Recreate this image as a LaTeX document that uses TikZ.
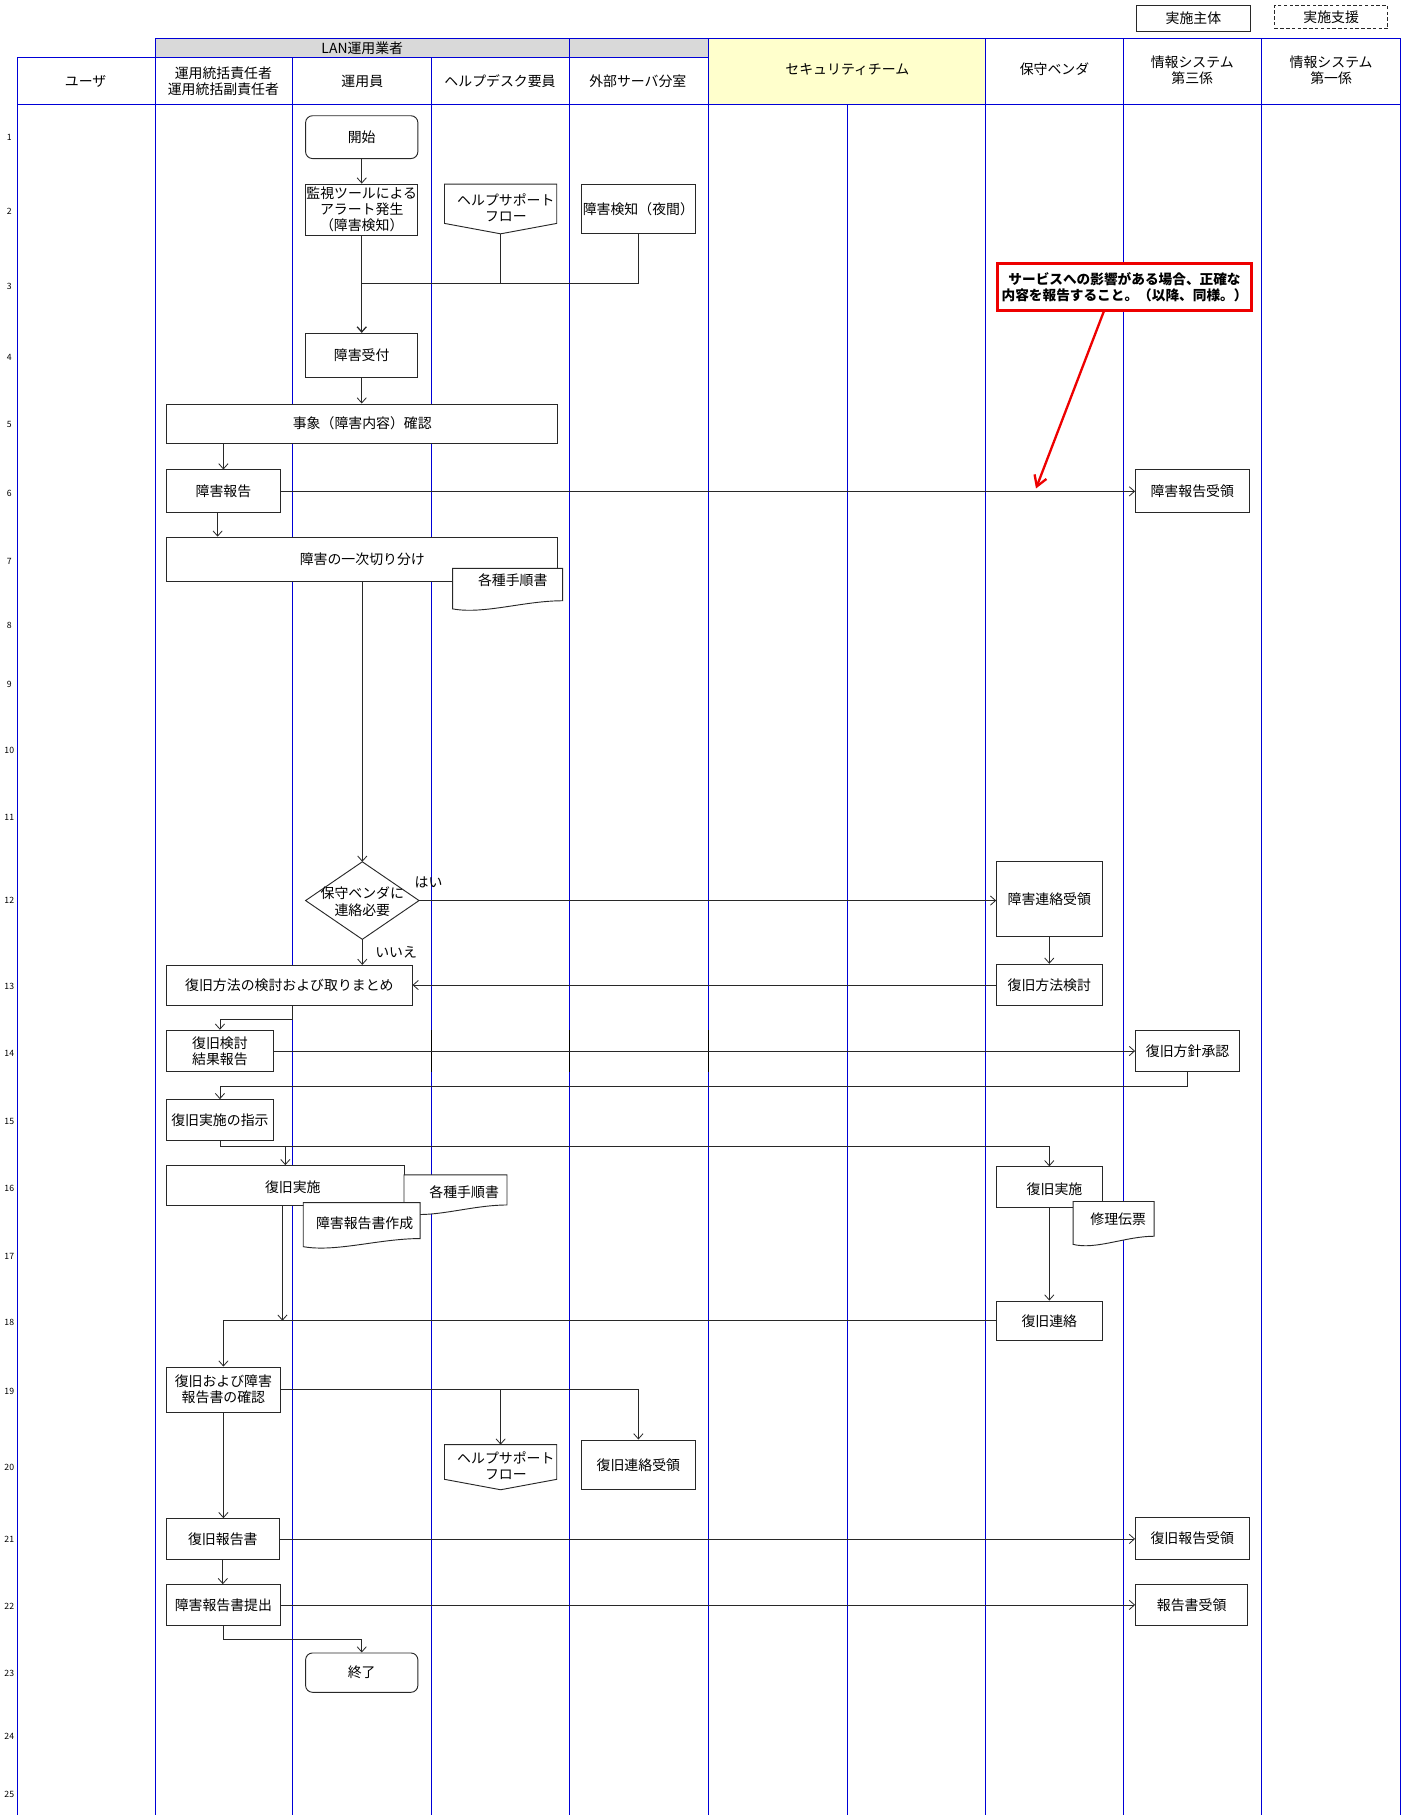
\documentclass[tikz,border=0pt]{standalone}
\usepackage{fontspec}
\setmainfont{Noto Sans CJK JP}
\usetikzlibrary{arrows.meta,calc}

\definecolor{laneblue}{RGB}{0,0,215}
\definecolor{bandgray}{RGB}{217,217,217}
\definecolor{secyellow}{RGB}{255,255,204}
\definecolor{ink}{RGB}{40,40,40}
\definecolor{alertred}{RGB}{238,0,0}

\newcommand{\bxfont}{\fontsize{12}{14}\selectfont}
\newcommand{\rowfont}{\fontsize{7.5}{8}\selectfont}

% document symbol: straight top, wavy bottom
\newcommand{\DrawDoc}[1]{%
  \draw[shapeline] (#1.north west) -- (#1.north east) -- (#1.south east)
    .. controls ($(#1.south east)!0.35!(#1.south west)$)
       and ($(#1.south east)!0.72!(#1.south west)+(0,12)$)
    .. ($(#1.south west)+(0,7)$) -- cycle;}
% off-page connector: box with a pointed bottom
\newcommand{\DrawOffpage}[1]{%
  \draw[shapeline] (#1.north west) -- (#1.north east) -- (#1.south east)
    -- ($(#1.south)+(0,9)$) -- (#1.south west) -- cycle;}

\begin{document}
\begin{tikzpicture}[x=1pt,y=-1pt,
  lane/.style={draw=laneblue,line width=0.9pt},
  shapeline/.style={draw=ink,fill=white,line width=0.8pt},
  box/.style={shapeline,inner sep=1pt,align=center,font=\bxfont},
  rbox/.style={box,rounded corners=6pt},
  frame/.style={inner sep=0pt,outer sep=0pt},
  txt/.style={inner sep=0pt,align=center,font=\bxfont},
  flow/.style={draw=ink,line width=0.7pt},
  arr/.style={flow,-{Straight Barb[length=4.5pt,width=8pt]}},
  rownum/.style={inner sep=0pt,font=\rowfont},
  legend/.style={draw=ink,line width=0.8pt,minimum width=98pt,inner sep=0pt,font=\bxfont},
  note/.style={draw=alertred,line width=2.6pt,fill=white,inner sep=0pt,align=center,
    font=\bfseries\fontsize{11.8}{14}\selectfont},
]
\useasboundingbox (0,0) rectangle (1216,1568);
\fill[white] (0,0) rectangle (1216,1568);

% ---------- legend ----------
\node[legend,minimum height=22pt] (lgmain) at (1031,16) {実施主体};
\node[legend,minimum height=20pt,densely dashed] (lgsupp) at (1150,15) {実施支援};

% ---------- header bands ----------
\fill[bandgray] (134,33) rectangle (612,50);
\fill[secyellow] (612,33) rectangle (851,90);

% ---------- swimlane grid ----------
\draw[lane] (134,33) -- (1210,33);
\draw[lane] (15,50) -- (612,50);
\draw[lane] (15,90) -- (1210,90);
\foreach \x in {15,253,373} \draw[lane] (\x,50) -- (\x,1568);
\foreach \x in {134,492,612,851,971,1090,1210} \draw[lane] (\x,33) -- (\x,1568);
\draw[lane] (732,90) -- (732,1568);

% ---------- header labels ----------
\node[txt] (hlan) at (313,41.5) {LAN運用業者};
\node[txt] (huser) at (74,70) {ユーザ};
\node[txt] (hmgr) at (193,70) {運用統括責任者\\運用統括副責任者};
\node[txt] (hop) at (313,70) {運用員};
\node[txt] (hhelp) at (432,70) {ヘルプデスク要員};
\node[txt] (hsrv) at (551,70) {外部サーバ分室};
\node[txt] (hsec) at (732,60) {セキュリティチーム};
\node[txt] (hvend) at (911,60) {保守ベンダ};
\node[txt] (hsys3) at (1030,61) {情報システム\\第三係};
\node[txt] (hsys1) at (1150,61) {情報システム\\第一係};

% ---------- row numbers ----------
\foreach \n/\y in {1/119,2/183,3/247,4/309,5/367,6/426,7/485,8/540,9/591,10/648,
                   11/706,12/778,13/852,14/910,15/969,16/1027,17/1085,18/1142,19/1202,
                   20/1268,21/1330,22/1388,23/1446,24/1500,25/1550}
  \node[rownum] (row\n) at (8,\y) {\n};

% ---------- detection ----------
\node[rbox,minimum width=97pt,minimum height=37pt] (start) at (312.5,118.5) {開始};
\node[box,minimum width=97pt,minimum height=44pt,inner sep=0pt] (alert) at (312.5,181)
  {監視ツールによる\\アラート発生\\（障害検知）};
\node[frame,minimum width=97pt,minimum height=34pt] (help1) at (432.5,176) {};
\DrawOffpage{help1}
\node[txt] (help1t) at (437,179.5) {ヘルプサポート\\フロー};
\node[box,minimum width=99pt,minimum height=43pt,inner sep=0pt] (night) at (551.5,180.5) {障害検知（夜間）};

\node[box,minimum width=97pt,minimum height=38pt] (recv) at (312.5,307) {障害受付};

\draw[arr] (start) -- (alert);
\draw[flow] ($(help1.south)+(0,9)$) -- ++(0,43) coordinate (hj) -- (hj -| alert.south);
\draw[flow] (night.south) |- (hj);
\draw[arr,line width=1.1pt] (alert) -- (recv);

% ---------- confirmation and first report ----------
\node[box,minimum width=338pt,minimum height=34pt] (confirm) at (313,366) {事象（障害内容）確認};
\node[box,minimum width=98pt,minimum height=37pt] (report) at (193,424.5) {障害報告};
\node[box,minimum width=98pt,minimum height=37pt] (reportrx) at (1030,424.5) {障害報告受領};
\node[box,minimum width=338pt,minimum height=38pt] (triage) at (313,483) {障害の一次切り分け};
\node[frame,minimum width=95pt,minimum height=28pt] (doc1) at (438.5,505) {};
\DrawDoc{doc1}
\node[txt] (doc1t) at (443,501) {各種手順書};

\draw[arr] (recv.south) -- (recv.south |- confirm.north);
\draw[arr] (confirm.south -| report.north) -- (report.north);
\draw[arr] (report) -- (reportrx);
\draw[arr] ($(report.south)+(-5,0)$) coordinate (r0) -- (r0 |- triage.north);

% ---------- vendor decision ----------
\node[frame,minimum width=98pt,minimum height=67pt] (decide) at (313,778) {};
\draw[shapeline] (decide.north) -- (decide.east) -- (decide.south) -- (decide.west) -- cycle;
\node[txt] (decidet) at (313,779) {保守ベンダに\\連絡必要};
\node[txt,anchor=west] (yes) at (358,762) {はい};
\node[txt,anchor=west] (no) at (324,823) {いいえ};

\node[box,minimum width=91pt,minimum height=65pt] (vendrx) at (906.5,776.5) {障害連絡受領};
\node[box,minimum width=91pt,minimum height=36pt] (vendstudy) at (906.5,851) {復旧方法検討};
\node[box,minimum width=212pt,minimum height=35pt] (plan) at (250,851.5) {復旧方法の検討および取りまとめ};

\draw[arr] (triage.south) -- (decide.north);
\draw[arr] (decide.east) -- (decide.east -| vendrx.west);
\draw[arr] (vendrx) -- (vendstudy);
\draw[arr] (vendstudy.west) -- (vendstudy.west -| plan.east);
\draw[arr] (decide.south) -- (decide.south |- plan.north);

% ---------- recovery planning ----------
\node[box,minimum width=92pt,minimum height=36pt] (planrep) at (190,908) {復旧検討\\結果報告};
\node[box,minimum width=90pt,minimum height=36pt] (approve) at (1026,908) {復旧方針承認};
\node[box,minimum width=92pt,minimum height=35pt,inner sep=0pt] (order) at (190,967.5) {復旧実施の指示};

% black cell borders on the lane lines in this row
\foreach \x in {373,492,612} \draw[flow,black] (\x,890) -- (\x,926);

\draw[arr] ($(plan.south)+(3,0)$) -- ++(0,11) -| (planrep.north);
\draw[arr] (planrep) -- (approve);
\draw[arr] (approve.south) -- ++(0,12) -| (order.north);

% ---------- recovery work ----------
\node[box,minimum width=205pt,minimum height=34pt] (exec) at (246.5,1024) {};
\node[txt] (exect) at (253,1026) {復旧実施};
\draw[flow,black] ($(plan.south)+(3,0)$) -- ($(plan.south)+(3,0)$ |- exec.north);
\node[frame,minimum width=89pt,minimum height=26pt] (doc2) at (393.5,1028) {};
\DrawDoc{doc2}
\node[txt] (doc2t) at (401,1030) {各種手順書};
\node[frame,minimum width=101pt,minimum height=31pt] (fdoc) at (312.5,1054.5) {};
\DrawDoc{fdoc}
\node[txt] (fdoct) at (315,1057) {障害報告書作成};

\node[box,minimum width=91pt,minimum height=35pt] (vendexec) at (906.5,1025.5) {};
\node[txt] (vendexect) at (911,1027) {復旧実施};
\node[frame,minimum width=70pt,minimum height=30pt] (slip) at (962,1053) {};
\DrawDoc{slip}
\node[txt] (slipt) at (966,1053) {修理伝票};
\node[box,minimum width=91pt,minimum height=34pt] (vendnote) at (906.5,1141) {復旧連絡};

\draw[arr] (order.south) -- ++(0,5) coordinate (split) -| (vendexec.north);
\draw[arr] (split -| exec.north) -- (exec.north);
\draw[arr] (vendexec.south) -- (vendnote.north);
\draw[arr] ($(exec.south)+(-2.5,0)$) coordinate (e0) -- (e0 |- vendnote.west);

% ---------- confirmation and closing ----------
\node[box,minimum width=98pt,minimum height=39pt,inner sep=0pt] (check) at (193,1200.5) {復旧および障害\\報告書の確認};
\node[frame,minimum width=97pt,minimum height=30pt] (help2) at (432.5,1263) {};
\DrawOffpage{help2}
\node[txt] (help2t) at (437,1266.5) {ヘルプサポート\\フロー};
\node[box,minimum width=99pt,minimum height=43pt] (recvnote) at (551.5,1265.5) {復旧連絡受領};
\node[box,minimum width=97pt,minimum height=35pt] (rrep) at (192.5,1329.5) {復旧報告書};
\node[box,minimum width=98pt,minimum height=36pt] (rreprx) at (1030,1329) {復旧報告受領};
\node[box,minimum width=98pt,minimum height=35pt,inner sep=0pt] (submit) at (193,1386.5) {障害報告書提出};
\node[box,minimum width=97pt,minimum height=35pt] (submitrx) at (1029.5,1386.5) {報告書受領};
\node[rbox,minimum width=97pt,minimum height=34pt] (finish) at (312.5,1445) {終了};

\draw[arr] (vendnote.west) -| (check.north);
\draw[arr] (check.east) -| (recvnote.north);
\draw[arr] (check.east -| help2.north) -- (help2.north);
\draw[arr] (check.south) -- (check.south |- rrep.north);
\draw[arr] (rrep.east) -- (rrep.east -| rreprx.west);
\draw[arr] (rrep.south) -- (rrep.south |- submit.north);
\draw[arr] (submit.east) -- (submit.east -| submitrx.west);
\draw[arr] (submit.south) -- ++(0,12) -| (finish.north);

% ---------- remark ----------
\node[note,minimum width=219pt,minimum height=40pt] (remark) at (971.5,248)
  {サービスへの影響がある場合、正確な\\内容を報告すること。（以降、同様。）};
\coordinate (remarktip) at (895,422);
\draw[alertred,line width=2pt,-{Straight Barb[length=9pt,width=11pt]}]
  ($(remark.south)+(-18,0)$) -- (remarktip);
\end{tikzpicture}
\end{document}
